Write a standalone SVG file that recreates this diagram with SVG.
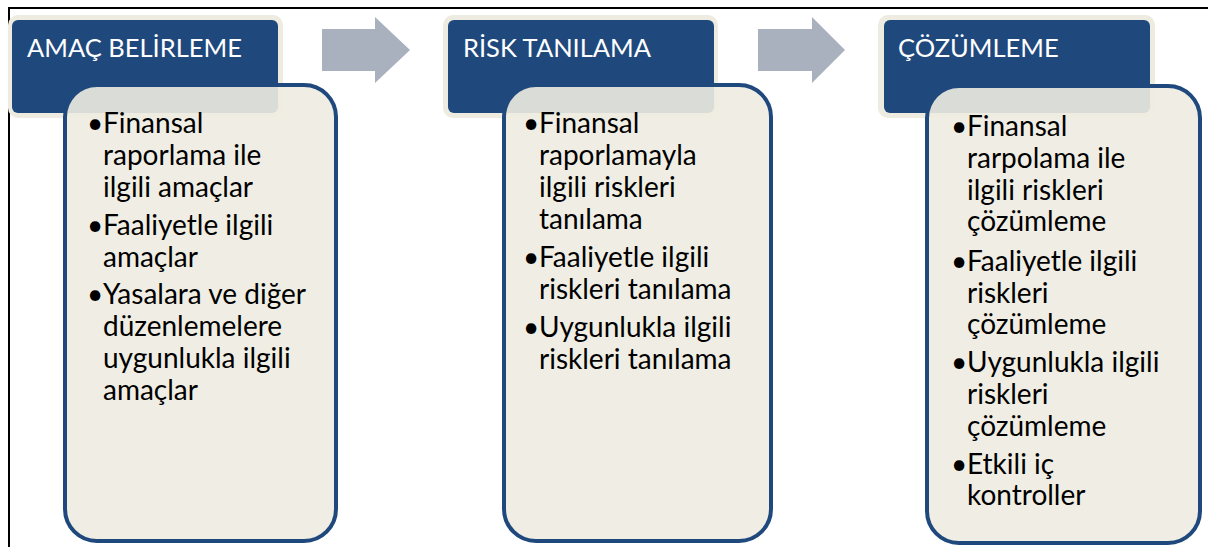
<svg xmlns="http://www.w3.org/2000/svg" width="1208" height="547" viewBox="0 0 1208 547">
<defs>
<style>
.halo{fill:#EEECE1;}
.hdr{fill:#1F497D;}
.box{fill:#EEECE1;fill-opacity:0.9;stroke:#1F497D;stroke-width:4;}
.ht{font-family:Lato,"Liberation Sans",sans-serif;font-size:25.5px;fill:#FFFFFF;}
.bt{font-family:Lato,"Liberation Sans",sans-serif;font-size:28px;fill:#000000;}
.arrow{fill:#A9B0BE;}
.frame{stroke:#000000;stroke-width:2;fill:none;}
</style>
</defs>
<rect width="1208" height="547" fill="#FFFFFF"/>
<g id="frame"><path class="frame" d="M1208,8 H9 V547"/></g>
<g id="connectors">
<polygon class="arrow" points="322,29 375,29 375,17 410,50 375,83 375,71 322,71"/>
<polygon class="arrow" points="758,29 812,29 812,17 845,50 812,83 812,71 758,71"/>
</g>
<g id="node-amac">
<rect class="halo" x="8" y="15" width="275" height="103" rx="10"/>
<rect class="hdr" x="12" y="20" width="266" height="93" rx="6"/>
<text class="ht" x="27" y="57">AMAÇ BELİRLEME</text>
<rect class="box" x="65" y="85" width="271" height="456" rx="32"/>
<text class="bt"><tspan x="87" y="133">•</tspan><tspan x="103" y="133">Finansal</tspan><tspan x="103" y="165">raporlama ile</tspan><tspan x="103" y="197">ilgili amaçlar</tspan><tspan x="87" y="235">•</tspan><tspan x="103" y="235">Faaliyetle ilgili</tspan><tspan x="103" y="267">amaçlar</tspan><tspan x="87" y="304">•</tspan><tspan x="103" y="304">Yasalara ve diğer</tspan><tspan x="103" y="336">düzenlemelere</tspan><tspan x="103" y="368">uygunlukla ilgili</tspan><tspan x="103" y="400">amaçlar</tspan></text>
</g>
<g id="node-risk">
<rect class="halo" x="443" y="15" width="275" height="103" rx="10"/>
<rect class="hdr" x="448" y="20" width="266" height="93" rx="6"/>
<text class="ht" x="463" y="57">RİSK TANILAMA</text>
<rect class="box" x="504" y="85" width="267" height="456" rx="32"/>
<text class="bt"><tspan x="523" y="133">•</tspan><tspan x="539" y="133">Finansal</tspan><tspan x="539" y="165">raporlamayla</tspan><tspan x="539" y="197">ilgili riskleri</tspan><tspan x="539" y="229">tanılama</tspan><tspan x="523" y="267">•</tspan><tspan x="539" y="267">Faaliyetle ilgili</tspan><tspan x="539" y="299">riskleri tanılama</tspan><tspan x="523" y="337">•</tspan><tspan x="539" y="337">Uygunlukla ilgili</tspan><tspan x="539" y="369">riskleri tanılama</tspan></text>
</g>
<g id="node-cozum">
<rect class="halo" x="878" y="15" width="277" height="103" rx="10"/>
<rect class="hdr" x="884" y="20" width="266" height="93" rx="6"/>
<text class="ht" x="898" y="57">ÇÖZÜMLEME</text>
<rect class="box" x="927" y="86" width="273" height="457" rx="32"/>
<text class="bt"><tspan x="951" y="136">•</tspan><tspan x="967" y="136">Finansal</tspan><tspan x="967" y="168">rarpolama ile</tspan><tspan x="967" y="200">ilgili riskleri</tspan><tspan x="967" y="231">çözümleme</tspan><tspan x="951" y="271">•</tspan><tspan x="967" y="271">Faaliyetle ilgili</tspan><tspan x="967" y="303">riskleri</tspan><tspan x="967" y="334">çözümleme</tspan><tspan x="951" y="372">•</tspan><tspan x="967" y="372">Uygunlukla ilgili</tspan><tspan x="967" y="404">riskleri</tspan><tspan x="967" y="436">çözümleme</tspan><tspan x="951" y="474">•</tspan><tspan x="967" y="474">Etkili iç</tspan><tspan x="967" y="505">kontroller</tspan></text>
</g>
</svg>
